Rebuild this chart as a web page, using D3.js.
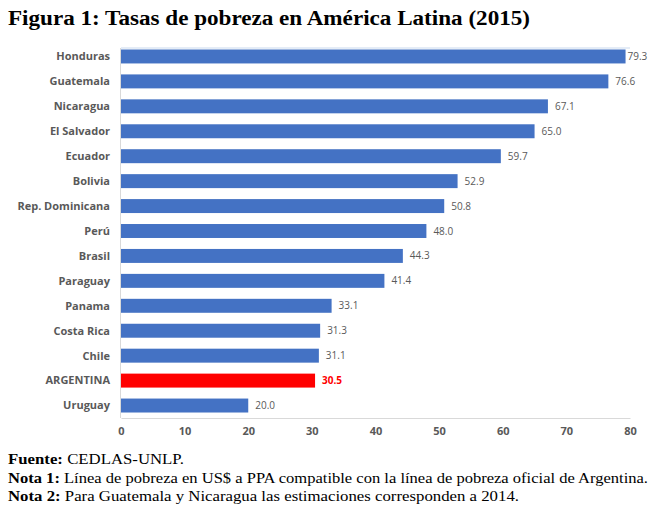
<!DOCTYPE html>
<html>
<head>
<meta charset="utf-8">
<script src="https://cdn.jsdelivr.net/npm/d3@7"></script>
<style>
  body { margin: 0; background: #fff; }
  svg { display: block; }
</style>
</head>
<body>
<div id="chartDiv"></div>
<script>
;(function() {

	var countries = ["Honduras", "Guatemala", "Nicaragua", "El Salvador", "Ecuador", "Bolivia",
		"Rep. Dominicana", "Perú", "Brasil", "Paraguay", "Panama", "Costa Rica", "Chile",
		"ARGENTINA", "Uruguay"];
	var rates = [79.3, 76.6, 67.1, 65.0, 59.7, 52.9, 50.8, 48.0, 44.3, 41.4, 33.1, 31.3, 31.1, 30.5, 20.0];
	var xTicks = [0, 10, 20, 30, 40, 50, 60, 70, 80];
	var highlight = "ARGENTINA";

	var width = 658;
	var height = 515;
	var plot = { left: 121, right: 630, top: 44, bottom: 418 };

	var chart = d3.select("#chartDiv").append("svg")
		.attr("width", width)
		.attr("height", height);

	// title
	chart.append("text")
		.attr("x", 8)
		.attr("y", 25)
		.style("font-family", "'Liberation Serif', serif")
		.style("font-weight", "bold")
		.style("font-size", "20px")
		.attr("textLength", 522)
		.attr("lengthAdjust", "spacingAndGlyphs")
		.text("Figura 1: Tasas de pobreza en América Latina (2015)");

	var xScale = d3.scaleLinear()
		.domain([0, 80])
		.range([plot.left, plot.right]);

	var yScale = d3.scaleBand()
		.domain(countries)
		.range([plot.top, plot.bottom])
		.paddingInner(0.44)
		.paddingOuter(0.22);

	// top edge of plot frame
	chart.append("line")
		.attr("x1", plot.left).attr("x2", plot.right)
		.attr("y1", plot.top + 4).attr("y2", plot.top + 4)
		.attr("stroke", "#c9d9ee")
		.attr("stroke-width", 1);

	// y axis line
	chart.append("line")
		.attr("x1", plot.left - 0.5).attr("x2", plot.left - 0.5)
		.attr("y1", plot.top + 4).attr("y2", plot.bottom)
		.attr("stroke", "#d9d9d9");

	// x axis
	var xAxis = d3.axisBottom(xScale)
		.tickValues(xTicks)
		.tickSize(0)
		.tickPadding(9);

	var xAxisG = chart.append("g")
		.attr("transform", "translate(0," + plot.bottom + ")")
		.call(xAxis);
	xAxisG.select(".domain").attr("stroke", "#d9d9d9");
	xAxisG.selectAll("text")
		.style("font-family", "'Open Sans', sans-serif")
		.style("font-weight", "bold")
		.style("font-size", "11px")
		.attr("fill", "#595959");

	// category labels
	chart.selectAll(".cat")
		.data(countries)
		.enter().append("text")
			.attr("class", "cat")
			.attr("x", plot.left - 11)
			.attr("y", function(d) { return yScale(d) + yScale.bandwidth() / 2; })
			.attr("dy", "0.35em")
			.attr("text-anchor", "end")
			.style("font-family", "'Open Sans', sans-serif")
			.style("font-weight", "bold")
			.style("font-size", "11px")
			.attr("fill", "#595959")
			.text(function(d) { return d; });

	// bars
	chart.selectAll(".bar")
		.data(countries)
		.enter().append("rect")
			.attr("class", "bar")
			.attr("x", xScale(0))
			.attr("y", function(d) { return yScale(d); })
			.attr("width", function(d, i) { return xScale(rates[i]) - xScale(0); })
			.attr("height", yScale.bandwidth())
			.attr("fill", function(d) { return d === highlight ? "#ff0000" : "#4472c4"; });

	// value labels
	chart.selectAll(".val")
		.data(countries)
		.enter().append("text")
			.attr("class", "val")
			.attr("x", function(d, i) { return xScale(rates[i]) + (i === 0 ? 2 : 7); })
			.attr("y", function(d) { return yScale(d) + yScale.bandwidth() / 2; })
			.attr("dy", "0.35em")
			.style("font-family", "'Open Sans', sans-serif")
			.style("font-size", "10px")
			.style("font-weight", function(d) { return d === highlight ? "bold" : "normal"; })
			.attr("fill", function(d) { return d === highlight ? "#ff0000" : "#595959"; })
			.text(function(d, i) { return rates[i].toFixed(1); });

	// notes
	var notes = [
		["Fuente:", " CEDLAS-UNLP."],
		["Nota 1:", " Línea de pobreza en US$ a PPA compatible con la línea de pobreza oficial de Argentina."],
		["Nota 2:", " Para Guatemala y Nicaragua las estimaciones corresponden a 2014."]
	];
	var noteLengths = [176, 640, 511];

	notes.forEach(function(n, i) {
		var t = chart.append("text")
			.attr("x", 8)
			.attr("y", 464 + i * 18.5)
			.style("font-family", "'Liberation Serif', serif")
			.style("font-size", "14px")
			.attr("textLength", noteLengths[i])
			.attr("lengthAdjust", "spacingAndGlyphs");
		t.append("tspan").style("font-weight", "bold").text(n[0]);
		t.append("tspan").text(n[1]);
	});

})();
</script>
</body>
</html>
